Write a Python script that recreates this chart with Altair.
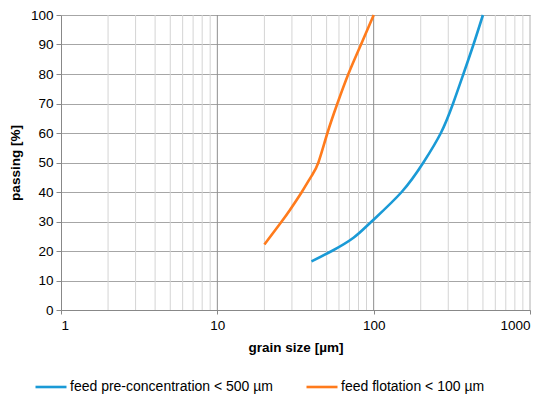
import altair as alt
import pandas as pd

# ---- data ----
pre_size = [40, 54, 74.3, 97, 151, 208, 269, 322, 375, 435, 500]
pre_pass = [16.5, 20, 24.5, 30, 40, 50, 60, 70, 80, 90, 100]

flot_size = [20, 25.8, 29.2, 34.7, 40, 44.3, 50.6, 58.6, 68.9, 83, 100]
flot_pass = [22.2, 30, 34, 40, 45.4, 50, 60, 70, 80, 90, 100]

series_names = ["feed pre-concentration < 500 µm", "feed flotation < 100 µm"]
series_colors = ["#1a9ad6", "#ff7b1c"]

major_ticks = [1, 10, 100, 1000]
minor_ticks = [2, 3, 4, 5, 6, 7, 8, 9, 20, 30, 40, 50, 60, 70, 80, 90,
               200, 300, 400, 500, 600, 700, 800, 900]
y_ticks = [0, 10, 20, 30, 40, 50, 60, 70, 80, 90, 100]

rows = []
for s, p in zip(pre_size, pre_pass):
    rows.append({"size": s, "passing": p, "series": series_names[0], "order": len(rows)})
for s, p in zip(flot_size, flot_pass):
    rows.append({"size": s, "passing": p, "series": series_names[1], "order": len(rows)})
df = pd.DataFrame(rows)

FONT = "Liberation Sans"
xscale = alt.Scale(type="log", domain=[1, 1000], nice=False)
yscale = alt.Scale(domain=[0, 100], nice=False)

x_axis = alt.Axis(
    values=major_ticks, format="d", grid=False, tickSize=4,
    tickColor="#888888", domainColor="#888888",
    labelFont=FONT, labelFontSize=13.5, labelColor="#000000",
    labelPadding=4, titleFont=FONT, titleFontSize=13.5,
    titleFontWeight="bold", titleColor="#000000", titlePadding=9,
)
X_TITLE = "grain size [µm]"

minor = alt.Chart(pd.DataFrame({"v": minor_ticks})).mark_rule(
    color="#d4d4d4", strokeWidth=1
).encode(x=alt.X("v:Q", scale=xscale, axis=x_axis, title=X_TITLE))

major = alt.Chart(pd.DataFrame({"v": major_ticks[1:-1]})).mark_rule(
    color="#8e8e8e", strokeWidth=1
).encode(x=alt.X("v:Q", scale=xscale, axis=x_axis, title=X_TITLE))

right_edge = alt.Chart(pd.DataFrame({"v": [major_ticks[-1]]})).mark_rule(
    color="#b0b0b0", strokeWidth=1
).encode(x=alt.X("v:Q", scale=xscale, axis=x_axis, title=X_TITLE))

lines = alt.Chart(df).mark_line(strokeWidth=2.6, interpolate="natural").encode(
    x=alt.X("size:Q", scale=xscale, title=X_TITLE, axis=x_axis),
    y=alt.Y(
        "passing:Q",
        scale=yscale,
        title="passing [%]",
        axis=alt.Axis(
            values=y_ticks, grid=True, gridColor="#a6a6a6", gridWidth=1,
            tickSize=5, tickColor="#888888", domainColor="#888888",
            labelFont=FONT, labelFontSize=13.5, labelColor="#000000",
            labelPadding=3, titleFont=FONT, titleFontSize=13.5,
            titleFontWeight="bold", titleColor="#000000", titlePadding=8,
        ),
    ),
    color=alt.Color(
        "series:N",
        scale=alt.Scale(domain=series_names, range=series_colors),
        legend=alt.Legend(
            title=None, orient="none", direction="horizontal",
            legendX=-27, legendY=355, symbolType="stroke",
            symbolSize=961, symbolStrokeWidth=2.6, labelFont=FONT,
            labelFontSize=14, labelColor="#000000", columnPadding=27,
            labelOffset=2, padding=0, labelLimit=400,
        ),
    ),
    order="order:Q",
)

chart = alt.layer(minor, major, right_edge, lines).properties(
    width=469, height=295,
    autosize=alt.AutoSizeParams(type="none"),
    padding={"left": 53, "top": 7, "right": 12, "bottom": 85},
    background="white",
).configure_view(stroke=None)

chart.save("out.html", embed_options={"renderer": "svg", "actions": False})
